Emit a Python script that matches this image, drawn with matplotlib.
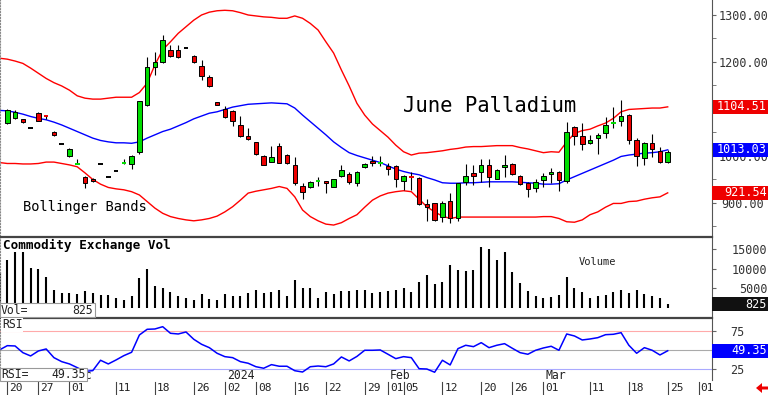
import numpy as np
import pandas as pd
import matplotlib
matplotlib.use('Agg')
import matplotlib.pyplot as plt
from matplotlib.patches import Rectangle, Polygon
from matplotlib.transforms import IdentityTransform, blended_transform_factory

plt.rcParams['font.family'] = ['DejaVu Sans Mono', 'DejaVu Sans']

# trading sessions (Nov 17 2023 is the half-hidden bar at the left edge)
holidays = ['2023-11-23', '2023-12-25', '2024-01-01', '2024-01-15', '2024-02-19', '2024-03-29']
sessions = pd.bdate_range('2023-11-17', '2024-04-05').difference(pd.to_datetime(holidays))

nan = np.nan
opens = [nan,
         1071, 1080, 1078, 1060, 1091, 1085, 1052, 1025, 1000, 982,
         955, 952, 983, 956, 969, 983, 983, 1009, 1108, 1189,
         1199, 1226, 1226, 1230, 1213, 1192, 1169, 1114, 1101, 1096,
         1066, 1042, 1029, 1000, 988, 1021, 1003, 981, 936, 933,
         946, 946, 935, 957, 962, 943, 976, 989, 985, 979,
         979, 947, 956, 954, 898, 899, 871, 905, 867, 945,
         963, 966, 981, 952, 977, 982, 957, 942, 931, 949,
         962, 966, 947, 1061, 1043, 1027, 1038, 1048, 1070, 1074,
         1087, 1035, 995, 1028, 1011, 987]
highs = [nan,
         1101, 1097, 1079, 1060, 1093, 1085, 1053, 1025, 1016, 994,
         957, 953, 983, 956, 969, 994, 1002, 1118, 1210, 1222,
         1258, 1236, 1236, 1230, 1215, 1204, 1172, 1115, 1106, 1098,
         1084, 1059, 1030, 1002, 1022, 1028, 1005, 998, 943, 947,
         956, 947, 952, 981, 966, 967, 984, 1001, 1001, 984,
         981, 960, 966, 955, 908, 900, 905, 922, 943, 983,
         981, 993, 993, 973, 1002, 986, 960, 945, 952, 964,
         974, 967, 1072, 1064, 1071, 1045, 1048, 1082, 1105, 1119,
         1089, 1038, 1030, 1046, 1020, 1013]
lows = [nan,
        1068, 1078, 1071, 1060, 1074, 1078, 1043, 1025, 998, 982,
        932, 945, 983, 956, 969, 983, 972, 1005, 1106, 1172,
        1197, 1211, 1208, 1230, 1197, 1162, 1147, 1108, 1080, 1064,
        1041, 1035, 1002, 980, 987, 984, 983, 938, 908, 931,
        936, 922, 933, 956, 941, 937, 975, 979, 979, 960,
        933, 928, 928, 896, 862, 862, 860, 858, 862, 938,
        938, 945, 933, 951, 956, 960, 939, 912, 924, 933,
        943, 926, 943, 1023, 1013, 1025, 1004, 1038, 1059, 1064,
        1025, 979, 981, 998, 986, 985]
closes = [nan,
          1098, 1094, 1072, 1060, 1075, 1084, 1045, 1025, 1014, 983,
          943, 947, 983, 956, 969, 984, 1000, 1116, 1190, 1199,
          1246, 1213, 1210, 1230, 1199, 1170, 1149, 1109, 1082, 1075,
          1043, 1036, 1004, 981, 997, 986, 984, 943, 924, 944,
          947, 942, 950, 970, 945, 965, 983, 985, 986, 972,
          952, 957, 955, 898, 892, 864, 899, 867, 942, 958,
          957, 981, 956, 970, 981, 962, 940, 929, 945, 957,
          966, 949, 1050, 1042, 1025, 1034, 1044, 1065, 1071, 1084,
          1035, 1000, 1027, 1014, 988, 1009]

upper_band = [1208,
              1206, 1202, 1197, 1187, 1176, 1165, 1156, 1149, 1140, 1128,
              1123, 1121, 1121, 1123, 1125, 1125, 1125, 1135, 1155, 1194,
              1226, 1243, 1261, 1275, 1289, 1300, 1306, 1309, 1310, 1309,
              1305, 1300, 1298, 1296, 1295, 1293, 1293, 1298, 1293, 1282,
              1268, 1243, 1219, 1183, 1149, 1112, 1087, 1068, 1054, 1040,
              1023, 1009, 1002, 1006, 1007, 1009, 1011, 1014, 1016, 1019,
              1020, 1020, 1021, 1022, 1022, 1022, 1018, 1015, 1011, 1007,
              1009, 1008, 1030, 1048, 1054, 1057, 1064, 1070, 1080, 1094,
              1099, 1100, 1101, 1102, 1102, 1104.51]
mid_band = [1097,
            1096, 1093, 1089, 1084, 1080, 1077, 1072, 1066, 1059, 1052,
            1045, 1038, 1033, 1030, 1028, 1028, 1027, 1030, 1038, 1045,
            1052, 1057, 1064, 1071, 1079, 1085, 1091, 1094, 1099, 1104,
            1107, 1110, 1111, 1112, 1113, 1112, 1111, 1102, 1087, 1073,
            1059, 1045, 1030, 1018, 1007, 1001, 996, 991, 986, 979,
            972, 967, 963, 960, 954, 949, 943, 942, 942, 943,
            943, 944, 945, 945, 945, 945, 944, 943, 942, 940,
            940, 941, 949, 956, 963, 970, 977, 984, 991, 999,
            1002, 1004, 1006, 1007, 1009, 1013.03]
lower_band = [986,
              984, 984, 983, 983, 984, 987, 987, 984, 981, 977,
              964, 950, 940, 933, 930, 928, 924, 917, 903, 889,
              878, 871, 867, 864, 862, 864, 867, 872, 881, 892,
              906, 921, 925, 928, 931, 935, 931, 913, 885, 871,
              862, 855, 853, 858, 867, 875, 891, 906, 915, 921,
              924, 926, 924, 908, 892, 881, 872, 867, 870, 870,
              870, 870, 870, 870, 870, 870, 870, 870, 870, 871,
              871, 867, 860, 859, 864, 875, 881, 891, 899, 899,
              903, 904, 908, 911, 913, 921.54]

volume = [9200,
          12400, 14300, 14300, 10300, 10100, 7800, 4500, 3800, 3800, 3500,
          4300, 3700, 3200, 3200, 2600, 2100, 3000, 7700, 10100, 5500,
          5000, 4100, 3000, 2500, 1900, 3400, 2200, 1900, 3600, 3000,
          3000, 3700, 4500, 3700, 4100, 4500, 3000, 7100, 5100, 5000,
          2600, 4100, 3400, 4300, 4300, 4500, 4500, 3700, 4000, 4300,
          4500, 5200, 4000, 6500, 8300, 6000, 6700, 11000, 9800, 9400,
          9700, 15700, 15200, 12400, 14300, 9100, 6400, 4300, 3000, 2500,
          2800, 3200, 8000, 5000, 4000, 2400, 2900, 3200, 4000, 4500,
          3700, 4500, 3400, 3100, 2600, 825]

rsi = [50.5,
       56, 55.6, 46.9, 42.6, 49.1, 51.7, 40.4, 35.2, 32.2, 27.4,
       22.5, 23.5, 37, 32.2, 37.4, 43, 47.4, 69.9, 77.3, 77.7,
       80.7, 72.1, 71.2, 73.8, 64.3, 57.8, 53.4, 46.1, 41.7, 40.4,
       35.2, 33.1, 28.6, 26.6, 31.3, 29.2, 29.2, 23.4, 21.7, 28.6,
       29.5, 28.6, 32.2, 41.3, 36.1, 42, 50, 50, 50.4, 44.8,
       39.1, 41.7, 40.4, 26, 25.6, 21.4, 37, 30.9, 52.1, 56.5,
       54.7, 59.9, 53.4, 56.5, 58.6, 52.6, 46.9, 44.8, 50, 53,
       55.2, 50, 71.2, 68.6, 63.4, 64.7, 66.4, 70.3, 70.8, 72.9,
       56.5, 46.1, 53.4, 50, 43.9, 49.35]

tick_dates = ['2023-11-20', '2023-11-27', '2023-12-01', '2023-12-11', '2023-12-18', '2023-12-26',
              '2024-01-02', '2024-01-08', '2024-01-16', '2024-01-22', '2024-01-29', '2024-02-01',
              '2024-02-05', '2024-02-12', '2024-02-20', '2024-02-26', '2024-03-01', '2024-03-11',
              '2024-03-18', '2024-03-25', '2024-04-01']
month_labels = {'2023-12-01': 'Dec', '2024-01-02': '2024', '2024-02-01': 'Feb', '2024-03-01': 'Mar'}

GREEN = '#00dd00'
RED = '#ee0000'
BLUE = '#0000ff'

n = len(closes)
x = np.arange(len(sessions)) - 1
xd = x[:n]
o, h, l, c = (np.array(a, dtype=float) for a in (opens, highs, lows, closes))

W, H = 768, 395
fig = plt.figure(figsize=(W / 100, H / 100), dpi=100)


def box(x0, y0, x1, y1):
    return [x0 / W, 1 - y1 / H, (x1 - x0) / W, (y1 - y0) / H]


ax_p = fig.add_axes(box(0, 0, 712, 236))
ax_v = fig.add_axes(box(0, 237, 712, 317))
ax_r = fig.add_axes(box(0, 318, 712, 380))

for ax in (ax_p, ax_v, ax_r):
    ax.set_xlim(-0.94, 90.7)
    ax.set_xticks([])
    ax.yaxis.tick_right()
    ax.spines['bottom'].set_visible(False)
    ax.spines['left'].set_linestyle(':')
    ax.spines['left'].set_color('#888888')
    ax.spines['right'].set_color('#555555')
    ax.tick_params(axis='y', which='both', direction='out', length=3, color='#666666',
                   labelsize=8.5, labelcolor='#333333')
ax_p.spines['top'].set_visible(False)
for ax in (ax_v, ax_r):
    ax.spines['top'].set_linewidth(1.6)
    ax.spines['top'].set_color('#444444')

# price panel
ax_p.set_ylim(829.7, 1331.9)
ax_p.plot(xd, upper_band, color='#ff0000', lw=1.0, zorder=2)
ax_p.plot(xd, lower_band, color='#ff0000', lw=1.0, zorder=2)
ax_p.plot(xd, mid_band, color=BLUE, lw=1.0, zorder=2)

valid = ~np.isnan(c)
flat = valid & (np.abs(c - o) < 1.5)
body = valid & ~flat
ax_p.vlines(xd[valid], l[valid], h[valid], color='black', lw=0.8, zorder=3)
body_col = np.where(c > o, GREEN, RED)
ax_p.bar(xd[body], (c - o)[body], bottom=o[body], width=0.58, color=body_col[body],
         edgecolor='black', linewidth=0.7, zorder=4)
dash_col = np.where(c > o, GREEN, np.where(c < o, RED, 'black'))
ax_p.hlines(c[flat], xd[flat] - 0.3, xd[flat] + 0.3, colors=dash_col[flat], lw=1.4, zorder=4)

ax_p.set_yticks([900, 1000, 1100, 1200, 1300])
ax_p.set_yticklabels([f'{v:.2f}' for v in [900, 1000, 1100, 1200, 1300]])
ax_p.set_yticks(np.arange(850, 1331, 50), minor=True)
ax_p.tick_params(axis='y', pad=19.4)
for t in ax_p.get_yticklabels():
    t.set_horizontalalignment('center')

# volume panel
ax_v.set_ylim(-2400, 18220)
ax_v.vlines(xd, 0, volume, color='black', lw=1.5)
ax_v.set_yticks([0, 5000, 10000, 15000])
ax_v.set_yticklabels(['', '5000', '10000', '15000'])
ax_v.tick_params(axis='y', pad=36.7)
for t in ax_v.get_yticklabels():
    t.set_horizontalalignment('right')

# rsi panel
ax_r.set_ylim(11.3, 92)
ax_r.axhline(75, color='#ffaaaa', lw=0.8)
ax_r.axhline(50, color='#aaaaaa', lw=0.8)
ax_r.axhline(25, color='#aaaaff', lw=0.8)
ax_r.plot(xd, rsi, color=BLUE, lw=1.1)
ax_r.set_yticks([25, 50, 75])
ax_r.set_yticklabels(['25', '', '75'])
ax_r.tick_params(axis='y', pad=15.1)
for t in ax_r.get_yticklabels():
    t.set_horizontalalignment('center')

# date axis
bt = blended_transform_factory(ax_r.transData, ax_r.transAxes)
for d in tick_dates:
    p = x[sessions.get_loc(pd.Timestamp(d))]
    ax_r.plot([p, p], [-0.03, -0.242], transform=bt, clip_on=False, color='#444444', lw=0.8)
    ax_r.text(p + 0.25, -0.13, d[-2:], transform=bt, fontsize=8, color='#222222',
              ha='left', va='center')
for d, lab in month_labels.items():
    p = x[sessions.get_loc(pd.Timestamp(d))]
    ax_r.text(p + 0.25, 0.075, lab, transform=bt, fontsize=8.3, color='#222222',
              ha='left', va='center')


def fx(px):
    return px / W


def fy(py):
    return 1 - py / H


# value tags on the right axis
def tag(ax, value, text, bg, x0=713):
    yd = ax.transData.transform((0, value))[1]
    fig.patches.append(Rectangle((x0, yd - 7), W - x0, 14, transform=IdentityTransform(),
                                 facecolor=bg, edgecolor='none'))
    fig.text(W - 1, yd, text, transform=IdentityTransform(), color='white', fontsize=8.5,
             ha='right', va='center')


tag(ax_p, upper_band[-1], f'{upper_band[-1]:.2f}', RED)
tag(ax_p, mid_band[-1], f'{mid_band[-1]:.2f}', BLUE)
tag(ax_p, lower_band[-1], f'{lower_band[-1]:.2f}', RED, x0=712)
tag(ax_v, volume[-1], f'{volume[-1]}', '#111111', x0=712)
tag(ax_r, rsi[-1], f'{rsi[-1]:.2f}', BLUE, x0=712)

# readout boxes on the left
fig.patches.append(Rectangle((0, fy(317)), fx(95), 14 / H, transform=fig.transFigure,
                             facecolor='white', edgecolor='#999999', lw=0.8))
fig.text(fx(1), fy(310), 'Vol=', fontsize=8.3, ha='left', va='center', color='#222222')
fig.text(fx(93), fy(310), f'{volume[-1]}', fontsize=8.3, ha='right', va='center', color='#222222')
fig.patches.append(Rectangle((0, fy(381)), fx(87), 13 / H, transform=fig.transFigure,
                             facecolor='white', edgecolor='#999999', lw=0.8))
fig.text(fx(1), fy(374.5), 'RSI=', fontsize=8.3, ha='left', va='center', color='#222222')
fig.text(fx(86), fy(374.5), f'{rsi[-1]:.2f}', fontsize=8.3, ha='right', va='center', color='#222222')

# titles
fig.text(fx(403), fy(106), 'June Palladium', fontsize=14.8, ha='left', va='center', color='black')
fig.text(fx(23), fy(207), 'Bollinger Bands', fontsize=9.9, ha='left', va='center', color='black')
fig.text(fx(3), fy(245), 'Commodity Exchange Vol', fontsize=9.1, fontweight='bold',
         ha='left', va='center', color='black')
fig.text(fx(579), fy(262), 'Volume', fontsize=7.5, ha='left', va='center', color='#222222')
fig.text(fx(2), fy(325), 'RSI', fontsize=8.3, ha='left', va='center', color='#222222',
         bbox=dict(facecolor='white', edgecolor='none', pad=0.5))

# little red arrow, bottom right
arrow = [(756, 7), (762, 12), (762, 8.5), (768, 8.5), (768, 5.5), (762, 5.5), (762, 2)]
fig.patches.append(Polygon(arrow, closed=True, transform=IdentityTransform(),
                           facecolor=RED, edgecolor='none'))

fig.savefig('out.png', dpi=100, facecolor='white')
